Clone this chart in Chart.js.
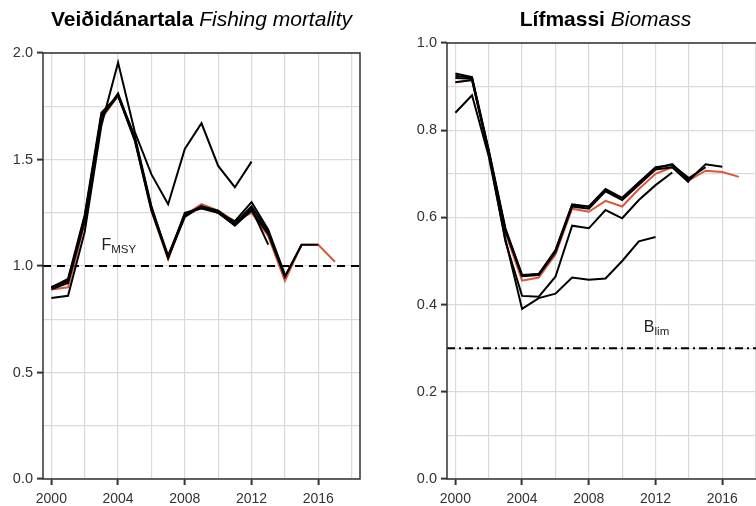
<!DOCTYPE html>
<html>
<head>
<meta charset="utf-8">
<script src="https://cdn.jsdelivr.net/npm/chart.js@4.4.1/dist/chart.umd.min.js"></script>
<style>
html, body { margin: 0; padding: 0; background: #fff; overflow: hidden; width: 756px; height: 506px; }
#wrapF { position: absolute; left: 0; top: 0; width: 380px; height: 506px; }
#wrapB { position: absolute; left: 380px; top: 0; width: 400px; height: 506px; }
</style>
</head>
<body>
<div id="wrapF"><canvas id="chartF"></canvas></div>
<div id="wrapB"><canvas id="chartB"></canvas></div>
<script>
var years = [2000, 2001, 2002, 2003, 2004, 2005, 2006, 2007, 2008, 2009, 2010, 2011, 2012, 2013, 2014, 2015, 2016, 2017];
var xTicks = [2000, 2002, 2004, 2006, 2008, 2010, 2012, 2014, 2016, 2018];
var xLabels = [2000, 2004, 2008, 2012, 2016];

var fTicks = [0, 0.25, 0.5, 0.75, 1, 1.25, 1.5, 1.75, 2];
var fLabels = [0, 0.5, 1, 1.5, 2];
var bTicks = [0, 0.1, 0.2, 0.3, 0.4, 0.5, 0.6, 0.7, 0.8, 0.9, 1];
var bLabels = [0, 0.2, 0.4, 0.6, 0.8, 1];

// Veiðidánartala - retro runs (last year of each run)
var f2012 = [0.85, 0.86, 1.16, 1.66, 1.955, 1.63, 1.43, 1.29, 1.55, 1.67, 1.47, 1.37, 1.49];
var f2013 = [0.90, 0.93, 1.22, 1.70, 1.80, 1.60, 1.27, 1.05, 1.24, 1.28, 1.25, 1.19, 1.27, 1.10];
var f2014 = [0.89, 0.92, 1.21, 1.71, 1.80, 1.61, 1.28, 1.04, 1.25, 1.27, 1.25, 1.21, 1.30, 1.17, 0.96];
var f2015 = [0.90, 0.93, 1.23, 1.70, 1.81, 1.60, 1.27, 1.04, 1.24, 1.28, 1.26, 1.20, 1.28, 1.16, 0.95, 1.10];
var f2016 = [0.90, 0.94, 1.24, 1.72, 1.80, 1.59, 1.26, 1.04, 1.23, 1.28, 1.25, 1.19, 1.26, 1.15, 0.95, 1.10, 1.10];
var f2017 = [0.89, 0.90, 1.20, 1.69, 1.80, 1.59, 1.26, 1.03, 1.24, 1.29, 1.26, 1.21, 1.25, 1.14, 0.93, 1.10, 1.10, 1.02];

// Lífmassi - retro runs
var b2012 = [0.84, 0.88, 0.74, 0.55, 0.39, 0.415, 0.425, 0.462, 0.457, 0.46, 0.50, 0.545, 0.555];
var b2013 = [0.91, 0.915, 0.75, 0.545, 0.42, 0.418, 0.464, 0.581, 0.575, 0.617, 0.598, 0.64, 0.674, 0.703];
var b2014 = [0.925, 0.92, 0.75, 0.57, 0.465, 0.468, 0.52, 0.625, 0.62, 0.66, 0.64, 0.675, 0.71, 0.715, 0.68];
var b2015 = [0.93, 0.922, 0.755, 0.575, 0.468, 0.47, 0.525, 0.63, 0.625, 0.665, 0.645, 0.68, 0.715, 0.72, 0.69, 0.715];
var b2016 = [0.92, 0.918, 0.752, 0.572, 0.466, 0.47, 0.522, 0.628, 0.624, 0.662, 0.644, 0.68, 0.713, 0.722, 0.685, 0.722, 0.716];
var b2017 = [0.91, 0.915, 0.745, 0.565, 0.455, 0.462, 0.515, 0.62, 0.613, 0.638, 0.625, 0.665, 0.70, 0.715, 0.685, 0.707, 0.704, 0.693];

var F_MSY = 1.0;
var B_LIM = 0.3;

var FONT = '"Liberation Sans", Arial, Helvetica, sans-serif';
Chart.defaults.font.family = FONT;
Chart.defaults.color = '#333';

function pts(arr) {
    return arr.map(function (v, i) { return { x: years[i], y: v }; });
}

function runSets(runs) {
    // red (newest) last in the list so it is drawn underneath
    return runs.map(function (r, i) {
        return {
            data: pts(r),
            borderColor: i === runs.length - 1 ? '#d9583c' : '#000',
            borderWidth: 2,
            pointRadius: 0,
            tension: 0,
            fill: false
        };
    });
}

var decor = {
    id: 'decor',
    beforeDatasetsDraw: function (chart, args, o) {
        var c = chart.ctx, a = chart.chartArea;
        var y = chart.scales.y.getPixelForValue(o.refValue);
        c.save();
        c.strokeStyle = '#000';
        c.lineWidth = 2;
        c.setLineDash(o.dash);
        c.beginPath();
        c.moveTo(a.left, y);
        c.lineTo(a.right, y);
        c.stroke();
        c.restore();
    },
    afterDraw: function (chart, args, o) {
        var c = chart.ctx, a = chart.chartArea;
        var xs = chart.scales.x, ys = chart.scales.y;
        c.save();
        c.strokeStyle = '#333';
        c.lineWidth = 1.5;
        c.setLineDash([]);
        c.strokeRect(a.left, a.top, a.right - a.left, a.bottom - a.top);

        // reference label with subscript
        var lx = xs.getPixelForValue(o.labelX), ly = ys.getPixelForValue(o.labelY);
        c.fillStyle = '#222';
        c.textBaseline = 'alphabetic';
        c.textAlign = 'left';
        c.font = '16px ' + FONT;
        c.fillText(o.label, lx, ly);
        var w = c.measureText(o.label).width;
        c.font = '11.5px ' + FONT;
        c.fillText(o.sub, lx + w, ly + 3);

        // title: bold Icelandic + italic English
        c.fillStyle = '#000';
        c.font = 'bold 21px ' + FONT;
        var w1 = c.measureText(o.titleIs + ' ').width;
        c.font = 'italic 21px ' + FONT;
        var w2 = c.measureText(o.titleEn).width;
        var tx = (a.left + a.right) / 2 - (w1 + w2) / 2;
        c.font = 'bold 21px ' + FONT;
        c.fillText(o.titleIs + ' ', tx, 26);
        c.font = 'italic 21px ' + FONT;
        c.fillText(o.titleEn, tx + w1, 26);
        c.restore();
    }
};

function makeChart(id, runs, yMax, yTicks, yLabels, padTop, padRight, yWidth, deco) {
    return new Chart(document.getElementById(id).getContext('2d'), {
        type: 'line',
        data: { datasets: runSets(runs) },
        plugins: [decor],
        options: {
            responsive: true,
            maintainAspectRatio: false,
            animation: false,
            layout: { padding: { top: padTop, right: padRight, left: 0, bottom: 0 } },
            plugins: {
                legend: { display: false },
                tooltip: { enabled: false },
                decor: deco
            },
            scales: {
                x: {
                    type: 'linear',
                    min: 1999.5,
                    max: 2018.5,
                    afterBuildTicks: function (s) { s.ticks = xTicks.map(function (v) { return { value: v }; }); },
                    afterFit: function (s) { s.height = 27; },
                    border: { display: false },
                    grid: {
                        color: '#dadada',
                        lineWidth: 1.2,
                        tickLength: 6,
                        tickWidth: 2,
                        tickColor: function (c) { return c.tick && xLabels.indexOf(c.tick.value) >= 0 ? '#333' : 'rgba(0,0,0,0)'; }
                    },
                    ticks: {
                        autoSkip: false,
                        maxRotation: 0,
                        padding: 6,
                        color: '#333',
                        font: { size: 14 },
                        callback: function (v) { return xLabels.indexOf(v) >= 0 ? String(v) : ''; }
                    }
                },
                y: {
                    min: 0,
                    max: yMax,
                    afterBuildTicks: function (s) { s.ticks = yTicks.map(function (v) { return { value: v }; }); },
                    afterFit: function (s) { s.width = yWidth; },
                    border: { display: false },
                    grid: {
                        color: '#dadada',
                        lineWidth: 1.2,
                        tickLength: 6,
                        tickWidth: 2,
                        tickColor: function (c) { return c.tick && yLabels.indexOf(c.tick.value) >= 0 ? '#333' : 'rgba(0,0,0,0)'; }
                    },
                    ticks: {
                        autoSkip: false,
                        padding: 4,
                        color: '#333',
                        font: { size: 14.5 },
                        callback: function (v) { return yLabels.indexOf(v) >= 0 ? v.toFixed(1) : ''; }
                    }
                }
            }
        }
    });
}

var chartF = makeChart('chartF', [f2012, f2013, f2014, f2015, f2016, f2017], 2, fTicks, fLabels, 53, 20, 43, {
    refValue: F_MSY, dash: [8, 6],
    label: 'F', sub: 'MSY', labelX: 2003, labelY: 1.075,
    titleIs: 'Veiðidánartala', titleEn: 'Fishing mortality'
});

var chartB = makeChart('chartB', [b2012, b2013, b2014, b2015, b2016, b2017], 1, bTicks, bLabels, 43, 16, 67, {
    refValue: B_LIM, dash: [8, 4, 2, 4],
    label: 'B', sub: 'lim', labelX: 2011.3, labelY: 0.337,
    titleIs: 'Lífmassi', titleEn: 'Biomass'
});
</script>
</body>
</html>
